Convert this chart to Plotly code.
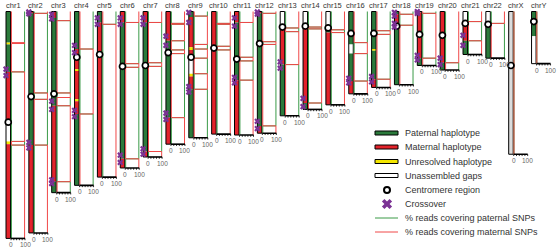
import plotly.graph_objects as go

H, L = 97, 3  # high / low % of reads

CHROMS = ["chr1", "chr2", "chr3", "chr4", "chr5", "chr6", "chr7", "chr8", "chr9", "chr10",
          "chr11", "chr12", "chr13", "chr14", "chr15", "chr16", "chr17", "chr18", "chr19",
          "chr20", "chr21", "chr22", "chrX", "chrY"]
LENGTHS = [248, 242, 198, 190, 181, 171, 159, 145, 138, 134, 135, 133, 114, 107, 102, 90, 83,
           80, 59, 64, 47, 51, 156, 57]
CENTROMERES = [121, 93, 90, 50, 47, 60, 59, 45, 50, 40, 52, 35, 17, 16, 18, 24, 24, 16, 25, 26,
               13, 14, 59, 11]

# haplotype segments of each assembled chromosome: breakpoints (Mb) and codes
# P paternal, M maternal, U unresolved, G unassembled gap, X unphased chrX
HAP_BREAKS = [
    [0, 34, 36, 66, 123, 142, 145, 248], [0, 2, 146, 242], [0, 7, 103, 186, 198],
    [0, 41, 63, 65, 96, 98, 112, 190], [0, 12, 181], [0, 12, 161, 171], [0, 12, 153, 159],
    [0, 32, 116, 145], [0, 6, 39, 42, 51, 68, 71, 85, 138], [0, 134], [0, 12, 75, 135],
    [0, 2, 125, 133], [0, 16, 58, 114], [0, 16, 100, 107], [0, 19, 23, 102],
    [0, 36, 46, 76, 90], [0, 41, 43, 74, 83], [0, 3, 15, 80], [0, 1, 51, 59], [0, 56, 64],
    [0, 11, 32, 47], [0, 13, 51], [0, 156], [0, 27, 57]]
HAP_CODES = ["PUPMGUM", "MPM", "MPMP", "PMUMUMP", "PM", "MPM", "MPM", "MPM", "PMUMGUMP", "M",
             "MPM", "MPM", "GMP", "GMP", "GPM", "PGPM", "PUPM", "PMP", "PMP", "MP", "GMP", "GP",
             "X", "PG"]

CROSSOVERS = [[63, 70], [0.5, 2.5, 143, 149], [3, 8, 98, 107, 184, 188], [37, 45, 108, 115],
              [7, 14], [7, 14, 157, 165], [7, 14, 150, 156], [27, 37, 111, 118],
              [1, 12, 82, 88], [], [7, 16, 72, 78], [0.5, 3, 120, 128], [55, 62], [95, 104],
              [], [73, 78], [71, 77], [1, 5, 13, 17], [0, 2, 48, 53], [51, 58], [26, 37], [],
              [], []]

# % reads covering paternal / maternal SNPs, in blocks between edges (Mb)
SNP_EDGES = [
    [0, 34, 35, 66, 142, 146, 248], [0, 2, 89, 96, 146, 242], [0, 10, 89, 94, 103, 186, 198],
    [0, 41, 112, 190], [0, 14, 181], [0, 12, 57, 61, 161, 171], [0, 12, 56, 60, 153, 159],
    [0, 13, 14, 32, 42, 46, 116, 145], [0, 5, 36, 41, 51, 68, 85, 138],
    [0, 13, 14, 38, 42, 134], [0, 12, 50, 54, 75, 135], [0, 2, 33, 36, 125, 133],
    [0, 18, 22, 58, 114], [0, 17, 19, 100, 107], [0, 20, 23, 102], [0, 34, 46, 76, 90],
    [0, 21, 25, 74, 83], [0, 3, 15, 80], [0, 2, 51, 59], [0, 56, 64], [0, 11, 32, 47],
    [0, 13, 51], [0, 156], [0, 57]]
PAT_PCT = [
    [H, H, H, L, H, L], [L, H, L, H, L], [L, H, L, H, L, H], [H, L, H], [H, L],
    [L, H, L, H, L], [L, H, L, H, L], [L, H, L, H, L, H, L], [H, L, H, L, H, L, H],
    [L, H, L, H, L], [L, H, L, H, L], [L, H, L, H, L], [L, H, L, H], [L, H, L, H], [L, H, L],
    [H, L, H, L], [H, L, H, L], [H, L, H], [H, L, H], [L, H], [L, H, L], [L, H], [2], [2]]
MAT_PCT = [
    [L, H, L, H, L, H], [H, L, H, L, H], [H, L, H, L, H, L], [L, H, L], [L, H],
    [H, L, H, L, H], [H, L, H, L, H], [H, L, H, L, H, L, H], [L, H, L, H, L, H, L],
    [H, L, H, L, H], [H, L, H, L, H], [H, L, H, L, H], [H, L, H, L], [H, L, H, L], [H, L, H],
    [L, H, L, H], [L, H, L, H], [L, H, L], [L, H, L], [H, L], [H, L, H], [H, L], [2], [2]]

TICK_VALUES = [0, 100]
TICK_LABELS = ["0", "100"]
LEGEND_LABELS = ["Paternal haplotype", "Maternal haplotype", "Unresolved haplotype",
                 "Unassembled gaps", "Centromere region", "Crossover",
                 "% reads covering paternal SNPs", "% reads covering maternal SNPs"]

# ---------------- styling / layout constants ----------------
COLORS = {"P": "#2b7a3b", "M": "#e3232b", "U": "#f3e600", "G": "#ffffff", "X": "#dcdcdc"}
GREEN_LINE = "#3a9a47"
RED_LINE = "#f04848"
PURPLE = "#7b3294"
FONT = "Arial, Liberation Sans, sans-serif"

W, HT = 558, 251
PX_PER_MB = 0.915
Y_TOP_PX = 11.5
SPACING = 22.85
PANEL0 = 11.0
PANEL_W = 14.0
U = 100.0 / PANEL_W  # percent units per pixel

y_range = [(HT - Y_TOP_PX) / PX_PER_MB, -Y_TOP_PX / PX_PER_MB]

fig = go.Figure()
layout = dict(
    width=W, height=HT, margin=dict(l=0, r=0, t=0, b=0),
    paper_bgcolor="white", plot_bgcolor="rgba(0,0,0,0)", showlegend=False,
    yaxis=dict(range=y_range, domain=[0, 1], visible=False, anchor="x", fixedrange=True),
)
shapes, annotations = [], []

bar_x0, bar_x1 = -5.0 * U, -0.5 * U
bar_mid = (bar_x0 + bar_x1) / 2

for i, name in enumerate(CHROMS):
    xref = "x" if i == 0 else f"x{i + 1}"
    axkey = "xaxis" if i == 0 else f"xaxis{i + 1}"
    pl = PANEL0 + SPACING * i
    layout[axkey] = dict(domain=[(pl - 9) / W, (pl + PANEL_W + 2) / W],
                         range=[-9 * U, 100 + 2 * U], visible=False, anchor="y",
                         fixedrange=True)
    length = LENGTHS[i]

    # ideogram segments
    br = HAP_BREAKS[i]
    for k, code in enumerate(HAP_CODES[i]):
        shapes.append(dict(type="rect", xref=xref, yref="y", x0=bar_x0, x1=bar_x1,
                           y0=br[k], y1=br[k + 1], fillcolor=COLORS[code],
                           line=dict(width=0), layer="below"))
    shapes.append(dict(type="rect", xref=xref, yref="y", x0=bar_x0, x1=bar_x1, y0=0,
                       y1=length, line=dict(color="black", width=1), layer="below"))

    # SNP read-percentage step lines
    edges = SNP_EDGES[i]
    for vals, col in ((PAT_PCT[i], GREEN_LINE), (MAT_PCT[i], RED_LINE)):
        xs, ys = [], []
        for k, v in enumerate(vals):
            xs += [v, v]
            ys += [edges[k], edges[k + 1]]
        fig.add_trace(go.Scatter(x=xs, y=ys, xaxis=xref, yaxis="y", mode="lines",
                                 line=dict(color=col, width=1), hoverinfo="skip"))

    # bottom axis of the panel
    shapes.append(dict(type="line", xref=xref, yref="y", x0=0, x1=100, y0=length,
                       y1=length, line=dict(color="black", width=1.6)))
    for t in range(0, 101, 20):
        shapes.append(dict(type="line", xref=xref, yref="y", x0=t, x1=t, y0=length,
                           y1=length + 1.8 / PX_PER_MB, line=dict(color="black", width=0.8)))
    for tv, tl in zip(TICK_VALUES, TICK_LABELS):
        annotations.append(dict(x=tv, y=length, xref=xref, yref="y", text=tl,
                                showarrow=False, yanchor="middle", yshift=-6.5,
                                font=dict(size=6.5, color="#666666", family=FONT)))

    # centromere
    fig.add_trace(go.Scatter(x=[bar_mid], y=[CENTROMERES[i]], xaxis=xref, yaxis="y",
                             mode="markers", cliponaxis=False, hoverinfo="skip",
                             marker=dict(symbol="circle", size=6, color="white",
                                         line=dict(color="black", width=1.7))))
    # crossovers
    if CROSSOVERS[i]:
        fig.add_trace(go.Scatter(x=[bar_x0] * len(CROSSOVERS[i]), y=CROSSOVERS[i],
                                 xaxis=xref, yaxis="y", mode="markers", cliponaxis=False,
                                 hoverinfo="skip",
                                 marker=dict(symbol="x", size=5.5, color=PURPLE,
                                             line=dict(width=0))))

    # chromosome label
    annotations.append(dict(x=2 * U, y=1 - 5.5 / HT, xref=xref, yref="paper", text=name,
                            showarrow=False, yanchor="middle", xanchor="center",
                            font=dict(size=7.5, color="#333", family=FONT)))

# ---------------- legend (pixel overlay axes) ----------------
lx = len(CHROMS) + 1
layout[f"xaxis{lx}"] = dict(domain=[0, 1], range=[0, W], visible=False, anchor="y2",
                            fixedrange=True)
layout["yaxis2"] = dict(domain=[0, 1], range=[HT, 0], visible=False, anchor=f"x{lx}",
                        fixedrange=True)
leg_rows = [133, 147, 161.5, 175.5, 190, 204, 218, 232]
sym_x0, sym_x1, sym_mid, text_x = 375, 398, 387, 403
for row, code in zip(leg_rows[:4], ["P", "M", "U", "G"]):
    shapes.append(dict(type="rect", xref=f"x{lx}", yref="y2", x0=sym_x0, x1=sym_x1,
                       y0=row - 2, y1=row + 2, fillcolor=COLORS[code],
                       line=dict(color="black", width=1)))
fig.add_trace(go.Scatter(x=[sym_mid], y=[leg_rows[4]], xaxis=f"x{lx}", yaxis="y2",
                         mode="markers", hoverinfo="skip",
                         marker=dict(symbol="circle", size=6, color="white",
                                     line=dict(color="black", width=2))))
fig.add_trace(go.Scatter(x=[sym_mid], y=[leg_rows[5]], xaxis=f"x{lx}", yaxis="y2",
                         mode="markers", hoverinfo="skip",
                         marker=dict(symbol="x", size=9, color=PURPLE, line=dict(width=0))))
for row, col in zip(leg_rows[6:], [GREEN_LINE, RED_LINE]):
    shapes.append(dict(type="line", xref=f"x{lx}", yref="y2", x0=sym_x0, x1=sym_x1,
                       y0=row, y1=row, line=dict(color=col, width=1)))
for row, lab in zip(leg_rows, LEGEND_LABELS):
    annotations.append(dict(x=text_x, y=row, xref=f"x{lx}", yref="y2", text=lab,
                            showarrow=False, xanchor="left", yanchor="middle",
                            font=dict(size=9, color="#333", family=FONT)))

layout["shapes"] = shapes
layout["annotations"] = annotations
fig.update_layout(**layout)
fig.write_html("out.html")
